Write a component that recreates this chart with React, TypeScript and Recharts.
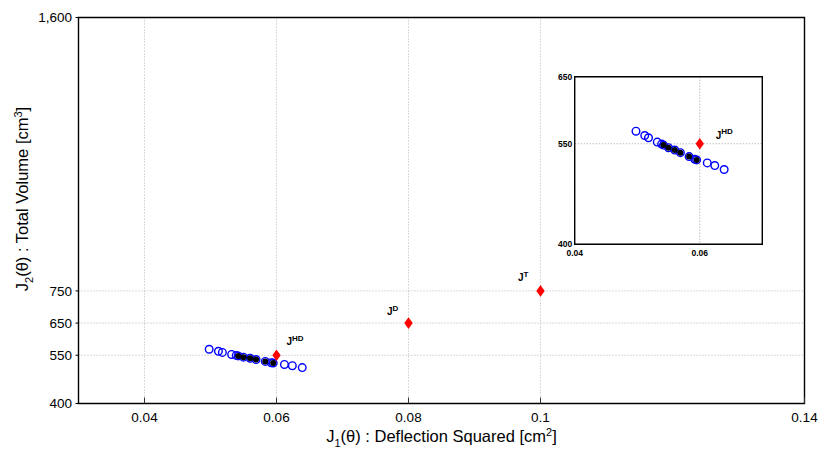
import React from 'react';
import { ScatterChart, Scatter, XAxis, YAxis, CartesianGrid, ReferenceArea } from 'recharts';

// Pareto front: J1 = deflection squared [cm^2], J2 = total volume [cm^3]
const paretoJ1 = [0.0498, 0.0512, 0.0518, 0.0532, 0.0539, 0.0542, 0.055, 0.056, 0.0569, 0.0583, 0.0592, 0.0595, 0.0612, 0.0624, 0.0639];
const paretoJ2 = [568.7, 562.3, 558.9, 552.5, 549.5, 548.0, 544.1, 540.6, 536.7, 530.8, 526.8, 525.9, 521.4, 517.5, 511.6];

// Highlighted subset of the front
const selectedJ1 = [0.0542, 0.055, 0.056, 0.0569, 0.0583, 0.0595];
const selectedJ2 = [548.0, 544.1, 540.6, 536.7, 530.8, 525.9];

// Reference designs
const refNames = ['HD', 'D', 'T'];
const refJ1 = [0.06, 0.08, 0.1];
const refJ2 = [550, 650, 750];

// Axes
const mainXTicks = [0.04, 0.06, 0.08, 0.1, 0.14];
const mainYTicks = [400, 550, 650, 750, 1600];
const insetXTicks = [0.04, 0.06];
const insetYTicks = [400, 550, 650];

const FONT = '"Liberation Sans", Arial, Helvetica, sans-serif';

const pareto = paretoJ1.map((x, i) => ({ x, y: paretoJ2[i] }));
const selected = selectedJ1.map((x, i) => ({ x, y: selectedJ2[i] }));
const refs = refJ1.map((x, i) => ({ x, y: refJ2[i], name: refNames[i] }));

const mainLabelOffset: Record<string, { dx: number; dy: number }> = {
  HD: { dx: 10, dy: -10 },
  D: { dx: -21.5, dy: -8 },
  T: { dx: -22.5, dy: -9.5 },
};
const insetLabelOffset: Record<string, { dx: number; dy: number }> = {
  HD: { dx: 16, dy: -5 },
};

const OpenCircle = (p: any) => (
  <circle cx={p.cx} cy={p.cy} r={3.8} fill="none" stroke="#0000ff" strokeWidth={1.4} />
);
const FilledDot = (p: any) => <circle cx={p.cx} cy={p.cy} r={3} fill="#000" />;

const makeDiamond = (offsets: Record<string, { dx: number; dy: number }>) => (p: any) => {
  const { cx, cy } = p;
  const name = p.payload.name;
  const o = offsets[name];
  return (
    <g>
      <polygon
        points={`${cx},${cy - 5.8} ${cx + 4.2},${cy} ${cx},${cy + 5.8} ${cx - 4.2},${cy}`}
        fill="#ff0000"
      />
      {o && (
        <text x={cx + o.dx} y={cy + o.dy} fontFamily={FONT} fontWeight="bold" fontSize={10} fill="#000">
          J
          <tspan dy={-4.5} fontSize={8}>
            {name}
          </tspan>
        </text>
      )}
    </g>
  );
};

const MainXTick = (p: any) => {
  const { x, y, payload } = p;
  return (
    <g>
      <line x1={x} y1={y} x2={x} y2={y - 6} stroke="#333" strokeWidth={1} />
      <text x={x} y={y + 18} textAnchor="middle" fontFamily={FONT} fontSize={13.5} fill="#000">
        {String(payload.value)}
      </text>
    </g>
  );
};

const MainYTick = (p: any) => {
  const { x, y, payload } = p;
  return (
    <g>
      <line x1={x - 3} y1={y} x2={x} y2={y} stroke="#000" strokeWidth={1} />
      <text x={x - 6.5} y={y + 4.8} textAnchor="end" fontFamily={FONT} fontSize={13.5} fill="#000">
        {Number(payload.value).toLocaleString('en-US')}
      </text>
    </g>
  );
};

const InsetXTick = (p: any) => {
  const { x, y, payload } = p;
  return (
    <text x={x} y={y + 12} textAnchor="middle" fontFamily={FONT} fontWeight="bold" fontSize={8.5} fill="#000">
      {String(payload.value)}
    </text>
  );
};

const InsetYTick = (p: any) => {
  const { x, y, payload } = p;
  return (
    <text x={x - 2.5} y={y + 3} textAnchor="end" fontFamily={FONT} fontWeight="bold" fontSize={8.5} fill="#000">
      {String(payload.value)}
    </text>
  );
};

const XTitle = (p: any) => {
  const vb = p.viewBox || { x: 0, y: 0, width: 0, height: 0 };
  const cx = vb.x + vb.width / 2;
  const by = vb.y + 38.5;
  return (
    <text x={cx} y={by} textAnchor="middle" fontFamily={FONT} fontSize={16.5} fill="#000">
      J<tspan dy={5} fontSize={11}>1</tspan>
      <tspan dy={-5}>(θ) : Deflection Squared [cm</tspan>
      <tspan dy={-6.5} fontSize={11}>2</tspan>
      <tspan dy={6.5}>]</tspan>
    </text>
  );
};

const YTitle = (p: any) => {
  const vb = p.viewBox || { x: 0, y: 0, width: 0, height: 0 };
  const bx = vb.x + 28;
  const cy = vb.y + vb.height / 2 - 11.5;
  return (
    <text
      x={bx}
      y={cy}
      transform={`rotate(-90, ${bx}, ${cy})`}
      textAnchor="middle"
      fontFamily={FONT}
      fontSize={16.5}
      fill="#000"
    >
      J<tspan dy={5} fontSize={11}>2</tspan>
      <tspan dy={-5}>(θ) : Total Volume [cm</tspan>
      <tspan dy={-6.5} fontSize={11}>3</tspan>
      <tspan dy={6.5}>]</tspan>
    </text>
  );
};

export default function App() {
  return (
    <div style={{ position: 'absolute', left: 0, top: 0, width: 822, height: 450, background: '#fff' }}>
      <ScatterChart width={822} height={450} margin={{ top: 17.5, right: 17.5, bottom: 0, left: 0 }}>
        <CartesianGrid stroke="#b4b4b4" strokeDasharray="1 2" strokeWidth={1} />
        <XAxis
          type="number"
          dataKey="x"
          domain={[0.03, 0.14]}
          ticks={mainXTicks}
          allowDataOverflow
          height={46.5}
          axisLine={false}
          tickLine={false}
          tickSize={0}
          tickMargin={0}
          tick={<MainXTick />}
          label={<XTitle />}
        />
        <YAxis
          type="number"
          dataKey="y"
          domain={[400, 1600]}
          ticks={mainYTicks}
          allowDataOverflow
          width={78.5}
          axisLine={false}
          tickLine={false}
          tickSize={0}
          tickMargin={0}
          tick={<MainYTick />}
          label={<YTitle />}
        />
        <ReferenceArea x1={0.03} x2={0.14} y1={400} y2={1600} fill="none" stroke="#000" strokeWidth={1.4} />
        <Scatter data={pareto} shape={OpenCircle} isAnimationActive={false} />
        <Scatter data={selected} shape={FilledDot} isAnimationActive={false} />
        <Scatter data={refs} shape={makeDiamond(mainLabelOffset)} isAnimationActive={false} />
      </ScatterChart>

      <div style={{ position: 'absolute', left: 540, top: 60, width: 240, height: 200 }}>
        <ScatterChart width={240} height={200} margin={{ top: 16.7, right: 17.7, bottom: 0, left: 0 }}>
          <CartesianGrid stroke="#a0a0a0" strokeDasharray="1 2" strokeWidth={1} />
          <XAxis
            type="number"
            dataKey="x"
            domain={[0.04, 0.07]}
            ticks={insetXTicks}
            allowDataOverflow
            height={15.7}
            axisLine={false}
            tickLine={false}
            tickSize={0}
            tickMargin={0}
            tick={<InsetXTick />}
          />
          <YAxis
            type="number"
            dataKey="y"
            domain={[400, 650]}
            ticks={insetYTicks}
            allowDataOverflow
            width={34.7}
            axisLine={false}
            tickLine={false}
            tickSize={0}
            tickMargin={0}
            tick={<InsetYTick />}
          />
          <ReferenceArea x1={0.04} x2={0.07} y1={400} y2={650} fill="none" stroke="#000" strokeWidth={1.4} />
          <Scatter data={pareto} shape={OpenCircle} isAnimationActive={false} />
          <Scatter data={selected} shape={FilledDot} isAnimationActive={false} />
          <Scatter data={refs.slice(0, 1)} shape={makeDiamond(insetLabelOffset)} isAnimationActive={false} />
        </ScatterChart>
      </div>
    </div>
  );
}
